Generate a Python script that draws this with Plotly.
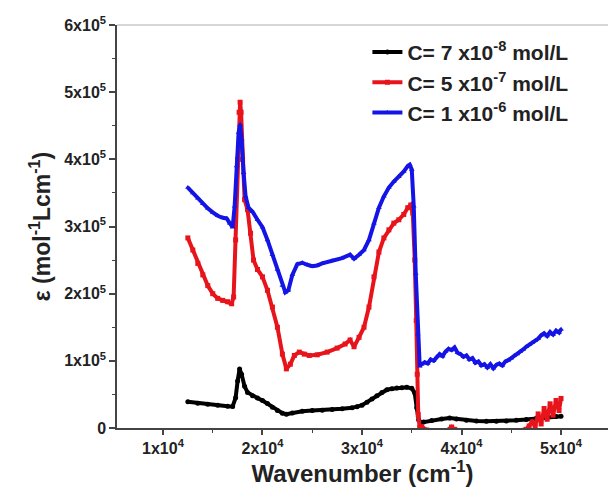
import plotly.graph_objects as go

# --- data ---
black_x = [12500, 13500, 14500, 15500, 16500, 17000, 17300, 17500, 17700, 17900, 18200, 18500,
           19000, 19500, 20000, 20500, 21000, 21500, 22000, 22400, 23000, 24000, 25000, 26000,
           27000, 28000, 29000, 29500, 30000, 30500, 31000, 31500, 32000, 32500, 33000, 33500,
           34000, 34500, 35000, 35300, 35500, 35700, 35900, 36200, 37000, 38000, 38800, 39500,
           40500, 41500, 42500, 43500, 44500, 45500, 46500, 47500, 48500, 49500, 50000]
black_y = [39000, 37000, 35500, 34000, 32500, 32000, 45000, 70000, 88000, 80000, 62000, 53000,
           48000, 44500, 41000, 36500, 31000, 26000, 22000, 20500, 22500, 25000, 26000, 26500,
           27500, 28500, 30000, 31500, 34000, 38500, 43000, 48000, 53000, 57000, 58500, 59500,
           60000, 60500, 59000, 52000, 30000, 12000, 8000, 9000, 11000, 13500, 15000, 13500,
           11500, 10500, 10000, 10000, 10500, 11500, 12500, 14000, 15500, 17000, 17500]

red_x = [12500, 13000, 13500, 14000, 14500, 15000, 15500, 16000, 16500, 16900, 17100, 17300,
         17500, 17650, 17750, 17850, 18000, 18200, 18500, 18800, 19100, 19500, 20000, 20500,
         21000, 21500, 22000, 22400, 22800, 23200, 23700, 24200, 24700, 25500, 26500, 27500,
         28300, 28800, 29200, 29700, 30200, 30700, 31200, 31700, 32200, 32700, 33200, 33700,
         34200, 34600, 34900, 35100, 35300, 35450, 35550, 35650, 35800, 36000, 36500, 37500,
         38500, 39000, 39300, 40500, 42000, 43500, 45000, 46500, 46800, 47100, 47400, 47700,
         48000, 48300, 48600, 48900, 49200, 49500, 49800, 50000]
red_y = [283000, 265000, 245000, 228000, 212000, 200000, 193000, 190000, 188000, 185000, 195000, 280000,
         400000, 470000, 485000, 470000, 400000, 340000, 325000, 290000, 250000, 236000, 225000, 205000,
         180000, 150000, 110000, 88000, 95000, 108000, 113000, 110000, 108000, 109000, 113000, 119000,
         125000, 131000, 121000, 135000, 150000, 180000, 225000, 262000, 283000, 295000, 305000, 310000,
         318000, 328000, 332000, 320000, 250000, 160000, 80000, 20000, 1000, 2000, -3000, -5000,
         -4000, 1500, -2000, -5000, -5000, -5000, -5000, -2000, 3000, 9000, 2000, 21000,
         6000, 29000, 13000, 36000, 19000, 41000, 26000, 44000]

blue_x = [12500, 13000, 13500, 14000, 14500, 15000, 15500, 16000, 16400, 16700, 17000, 17200,
          17400, 17600, 17750, 17900, 18100, 18300, 18600, 19000, 19500, 20000, 20500, 21000,
          21500, 22000, 22300, 22600, 23000, 23500, 24000, 24500, 25000, 25500, 26000, 27000,
          28000, 28800, 29200, 29700, 30200, 30700, 31200, 31700, 32200, 32700, 33200, 33700,
          34200, 34600, 34800, 35000, 35200, 35400, 35600, 35800, 36000, 36300, 36600, 36900,
          37200, 37500, 37800, 38100, 38400, 38700, 39000, 39300, 39600, 39900, 40200, 40500,
          40800, 41100, 41400, 41700, 42000, 42300, 42600, 42900, 43200, 43500, 43800, 44100,
          44400, 44700, 45000, 45300, 45600, 45900, 46200, 46500, 46800, 47100, 47400, 47700,
          48000, 48300, 48600, 48900, 49200, 49500, 49800, 50000]
blue_y = [358000, 350000, 342000, 334000, 327000, 321000, 316000, 313000, 312000, 305000, 299000, 330000,
          390000, 440000, 452000, 430000, 380000, 345000, 328000, 322000, 310000, 299000, 280000, 258000,
          236000, 212000, 202000, 205000, 228000, 244000, 246000, 243000, 241000, 242000, 245000, 249000,
          253000, 258000, 252000, 258000, 265000, 280000, 305000, 328000, 345000, 358000, 367000, 374000,
          382000, 390000, 392000, 385000, 330000, 230000, 140000, 92000, 95000, 98000, 96000, 102000,
          100000, 106000, 110000, 107000, 114000, 118000, 116000, 120000, 112000, 110000, 106000, 108000,
          102000, 104000, 97000, 99000, 93000, 95000, 90000, 95000, 89000, 94000, 96000, 93000,
          99000, 101000, 104000, 108000, 110000, 114000, 117000, 121000, 124000, 127000, 130000, 133000,
          138000, 141000, 137000, 143000, 139000, 145000, 142000, 147000]

names = ["C= 7 x10<sup>-8</sup> mol/L", "C= 5 x10<sup>-7</sup> mol/L", "C= 1 x10<sup>-6</sup> mol/L"]
colors = ["#000000", "#e8141b", "#1414e6"]
symbols = ["circle", "square", "triangle-up"]

x_tickvals = [10000, 20000, 30000, 40000, 50000]
x_ticktext = ["1x10<sup>4</sup>", "2x10<sup>4</sup>", "3x10<sup>4</sup>", "4x10<sup>4</sup>", "5x10<sup>4</sup>"]
y_tickvals = [0, 100000, 200000, 300000, 400000, 500000, 600000]
y_ticktext = ["0", "1x10<sup>5</sup>", "2x10<sup>5</sup>", "3x10<sup>5</sup>", "4x10<sup>5</sup>",
              "5x10<sup>5</sup>", "6x10<sup>5</sup>"]

fig = go.Figure()
for xs, ys, nm, col, sym in zip([black_x, red_x, blue_x], [black_y, red_y, blue_y], names, colors, symbols):
    fig.add_trace(go.Scatter(
        x=xs, y=ys, name=nm, mode="lines+markers",
        line=dict(color=col, width=4),
        marker=dict(color=col, symbol=sym, size=5),
    ))

font_family = "Liberation Sans, Arial, sans-serif"
fig.update_layout(
    width=608, height=494,
    margin=dict(l=117, r=0, t=25, b=66, autoexpand=False),
    paper_bgcolor="white", plot_bgcolor="white",
    font=dict(family=font_family, color="#222222", size=16, weight="bold"),
    showlegend=True,
    legend=dict(x=0.51, y=0.983, xanchor="left", yanchor="top",
                font=dict(size=21, family=font_family, color="#222222", weight="bold"),
                bgcolor="rgba(0,0,0,0)", tracegroupgap=0, itemwidth=30),
    shapes=[dict(type="line", xref="paper", yref="paper", x0=0, x1=1, y0=1, y1=1,
                 line=dict(color="#c8c8c8", width=1.5))],
)
fig.update_xaxes(
    range=[5380, 54720], showgrid=False, zeroline=False, automargin=False,
    showline=True, linecolor="#444444", linewidth=1.5,
    tickvals=x_tickvals, ticktext=x_ticktext, ticks="outside", ticklen=5, tickwidth=1.5, tickcolor="#444444",
    minor=dict(dtick=5000, tick0=0, ticks="outside", ticklen=3, tickwidth=1.2, tickcolor="#444444"),
    tickfont=dict(size=16, weight="bold"),
    title=dict(text="Wavenumber (cm<sup>-1</sup>)", font=dict(size=24, weight="bold"), standoff=2),
)
fig.update_yaxes(
    range=[0, 600000], showgrid=False, zeroline=False, automargin=False,
    showline=True, linecolor="#444444", linewidth=1.5,
    tickvals=y_tickvals, ticktext=y_ticktext, ticks="outside", ticklen=6, tickwidth=1.5, tickcolor="#444444",
    minor=dict(dtick=50000, tick0=0, ticks="outside", ticklen=3, tickwidth=1.2, tickcolor="#444444"),
    tickfont=dict(size=16, weight="bold"),
    title=dict(text="ε (mol<sup>-1</sup>Lcm<sup>-1</sup>)", font=dict(size=23, weight="bold"), standoff=7),
)

fig.write_html(
    "out.html",
    config={"displayModeBar": False},
    post_script="document.body.style.margin='0';document.documentElement.style.overflow='hidden';document.body.style.overflow='hidden';",
)
